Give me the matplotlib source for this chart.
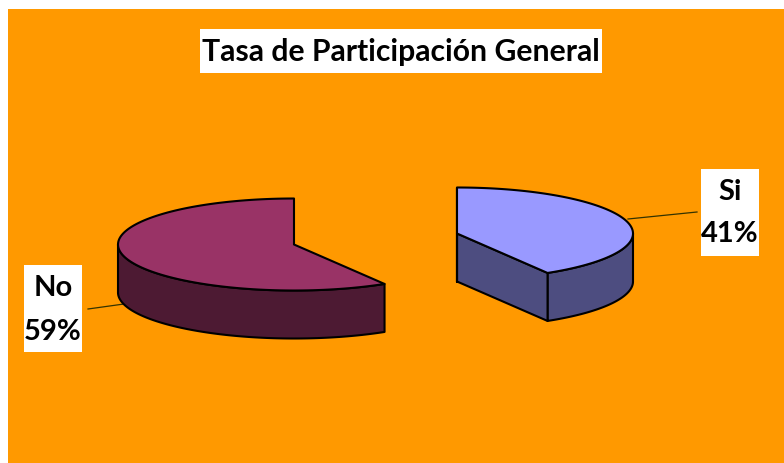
import numpy as np
import matplotlib
matplotlib.use("Agg")
import matplotlib.pyplot as plt
from matplotlib.patches import Polygon, Rectangle

title = "Tasa de Participación General"
categories = ["Si", "No"]
values = [41.4, 58.6]  # shown rounded: 41% and 59%

ORANGE = "#FF9900"
top_colors = ["#9999FF", "#993366"]
side_colors = ["#4D4D80", "#4D1A33"]
centers = [(457, 234.5), (294, 245.5)]
RX, RY, DEPTH = 176, 46, 48
FONT = "Lato"

fig = plt.figure(figsize=(7.84, 4.64), dpi=100, facecolor="white")
ax = fig.add_axes([0, 0, 1, 1])
ax.set_xlim(0, 784)
ax.set_ylim(464, 0)
ax.axis("off")
ax.add_patch(Rectangle((8, 10), 790, 470, fc=ORANGE, ec="none", zorder=0))


def rim(c, a, b, n=120):
    """Ellipse points, angles in degrees clockwise from 12 o'clock."""
    t = np.radians(np.linspace(a, b, n))
    return np.column_stack([c[0] + RX * np.sin(t), c[1] - RY * np.cos(t)])


def shape(pts, fc):
    ax.add_patch(Polygon(pts, closed=True, fc=fc, ec="black", lw=1.5,
                         joinstyle="round", zorder=2))


drop = np.array([0, DEPTH])
fracs = np.cumsum([0] + values) / sum(values) * 360
for i, c in enumerate(centers):
    a, b = fracs[i], fracs[i + 1]
    apex = np.array(c, float)
    # visible front wall: the part of the rim lying between 90 and 270 degrees
    fa, fb = max(a, 90), min(b, 270)
    arc = rim(c, fa, fb)
    shape(np.vstack([arc, (arc + drop)[::-1]]), side_colors[i])
    if a == 0:  # cut face towards the viewer, and rear edge of the slice
        end = rim(c, b, b, 1)[0]
        shape(np.array([apex, end, end + drop, apex + drop]), side_colors[i])
        start = rim(c, a, a, 1)[0]
        shape(np.array([start, start + drop, apex + drop, apex]), side_colors[i])
    shape(np.vstack([[apex], rim(c, a, b)]), top_colors[i])


def box(x0, y0, x1, y1):
    ax.add_patch(Rectangle((x0, y0), x1 - x0, y1 - y0, fc="white", ec="none", zorder=3))


def label(x, y, s, size):
    ax.text(x, y, s, ha="center", va="center", fontsize=size, fontweight="bold",
            family=FONT, color="black", zorder=4)


box(200, 30, 602, 74)
label(401, 52, title, 21.7)

box(701, 170, 759, 257)
label(730, 192, categories[0], 21)
label(730, 234, f"{values[0]:.0f}%", 21)
box(24, 266, 82, 353)
label(53, 288, categories[1], 21)
label(53, 332, f"{values[1]:.0f}%", 21)

ax.plot([628, 697], [220, 213], color="#333300", lw=0.9, zorder=1.5)
ax.plot([88, 124], [310, 305], color="#333300", lw=0.9, zorder=1.5)

fig.savefig("out.png", dpi=100, facecolor="white")
